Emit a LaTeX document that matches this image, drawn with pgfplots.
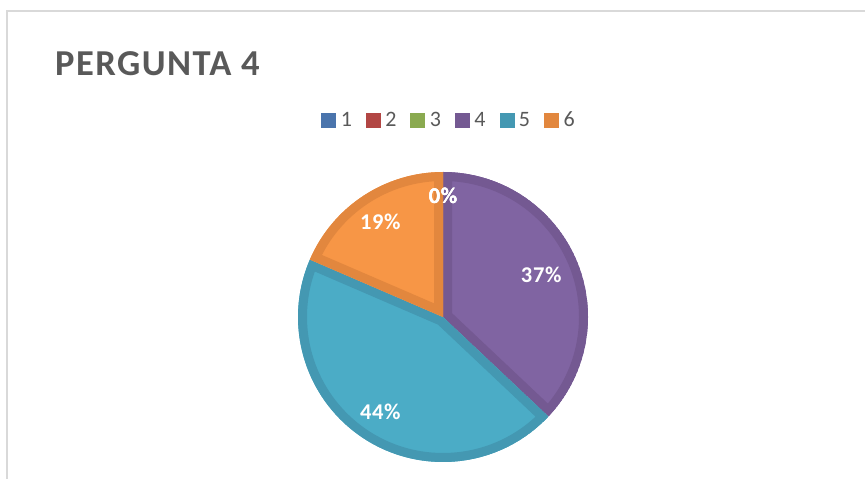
\documentclass[border=0pt]{standalone}
\usepackage{fontspec}
\setmainfont{Carlito}
\newfontfamily\titlefont[LetterSpace=4]{Carlito}
\newfontfamily\labelfont[LetterSpace=3]{Carlito}
\usepackage{pgfplots}
\usepackage{pgfplotstable}
\pgfplotsset{compat=1.18}

\definecolor{txtgray}{HTML}{595959}
\definecolor{framegray}{HTML}{D9D9D9}
% light (fill) and dark (edge / legend) colours per category
\definecolor{lc1}{HTML}{4F81BD}\definecolor{dc1}{HTML}{4A74AC}
\definecolor{lc2}{HTML}{C0504D}\definecolor{dc2}{HTML}{B24644}
\definecolor{lc3}{HTML}{9BBB59}\definecolor{dc3}{HTML}{8AAA50}
\definecolor{lc4}{HTML}{8064A2}\definecolor{dc4}{HTML}{745992}
\definecolor{lc5}{HTML}{4BACC6}\definecolor{dc5}{HTML}{4498B2}
\definecolor{lc6}{HTML}{F79646}\definecolor{dc6}{HTML}{E2873E}

% value = responses; lr = label distance from the centre
\pgfplotstableread{
cat value lr
1 0 121
2 0 121
3 0 121
4 10 107
5 12 114
6 5 114
}\piedata

\def\cx{443}\def\cy{162}\def\R{145}

\begin{document}
\begin{tikzpicture}
\begin{axis}[
  x=1pt, y=1pt,
  xmin=0, xmax=865, ymin=0, ymax=479,
  hide axis, clip=false,
  legend columns=-1,
  legend image code/.code={\fill[#1] (0pt,-7pt) rectangle (14pt,7pt);},
  legend style={draw=none, fill=none,
    at={(axis cs:448,359)}, anchor=center,
    font=\fontsize{22}{22}\selectfont, text=txtgray,
    nodes={inner sep=0pt},
    /tikz/every odd column/.append style={column sep=5pt},
    /tikz/every even column/.append style={column sep=14pt}},
]
% frame
\draw[framegray, line width=1.5pt] (axis cs:7,0) -- (axis cs:7,468) -- (axis cs:865,468);
% title
\node[anchor=base west, text=txtgray, font=\titlefont\bfseries\fontsize{36.5}{36.5}\selectfont, inner sep=0pt]
  at (axis cs:55,403) {PERGUNTA 4};

% total
\def\total{0}
\pgfplotsforeachungrouped \i in {0,...,5}{%
  \pgfplotstablegetelem{\i}{value}\of\piedata
  \pgfmathsetmacro\total{\total+\pgfplotsretval}%
}
% slices
\def\cumangle{90}
\pgfplotsforeachungrouped \i in {0,...,5}{%
  \pgfplotstablegetelem{\i}{value}\of\piedata
  \let\v\pgfplotsretval
  \pgfplotstablegetelem{\i}{cat}\of\piedata
  \let\c\pgfplotsretval
  \pgfmathsetmacro\sweep{360*\v/\total}%
  \pgfmathsetmacro\endang{\cumangle-\sweep}%
  \pgfmathtruncatemacro\nonzero{\v>0 ? 1 : 0}%
  \ifnum\nonzero=1
  \edef\temp{%
    \noexpand\begin{scope}
    \noexpand\clip (axis cs:\cx,\cy) -- ++(\cumangle:\R pt)
       arc[start angle=\cumangle, end angle=\endang, radius=\R pt] -- cycle;
    \noexpand\fill[lc\c] (axis cs:\cx,\cy) -- ++(\cumangle:\R pt)
       arc[start angle=\cumangle, end angle=\endang, radius=\R pt] -- cycle;
    \noexpand\draw[dc\c, line width=18pt, line join=miter] (axis cs:\cx,\cy) -- ++(\cumangle:\R pt)
       arc[start angle=\cumangle, end angle=\endang, radius=\R pt] -- cycle;
    \noexpand\end{scope}
  }%
  \temp
  \fi
  \let\cumangle\endang
}
% labels
\def\cumangle{90}
\pgfplotsforeachungrouped \i in {0,...,5}{%
  \pgfplotstablegetelem{\i}{value}\of\piedata
  \let\v\pgfplotsretval
  \pgfplotstablegetelem{\i}{lr}\of\piedata
  \let\lr\pgfplotsretval
  \pgfmathsetmacro\sweep{360*\v/\total}%
  \pgfmathsetmacro\endang{\cumangle-\sweep}%
  \pgfmathsetmacro\midang{\cumangle-\sweep/2}%
  \pgfmathtruncatemacro\pct{round(100*\v/\total)}%
  \pgfmathsetmacro\lx{\cx+\lr*cos(\midang)}%
  \pgfmathsetmacro\ly{\cy+\lr*sin(\midang)}%
  \edef\temp{%
    \noexpand\node[text=white, font=\noexpand\labelfont\noexpand\bfseries\noexpand\fontsize{22.5}{22.5}\noexpand\selectfont]
      at (axis cs:\lx,\ly) {\pct\noexpand\%};
  }%
  \temp
  \let\cumangle\endang
}

\addlegendimage{dc1}\addlegendentry{1}
\addlegendimage{dc2}\addlegendentry{2}
\addlegendimage{dc3}\addlegendentry{3}
\addlegendimage{dc4}\addlegendentry{4}
\addlegendimage{dc5}\addlegendentry{5}
\addlegendimage{dc6}\addlegendentry{6}
\end{axis}
\pgfresetboundingbox
\path[use as bounding box] (current axis.south west) rectangle (current axis.north east);
\end{tikzpicture}
\end{document}
